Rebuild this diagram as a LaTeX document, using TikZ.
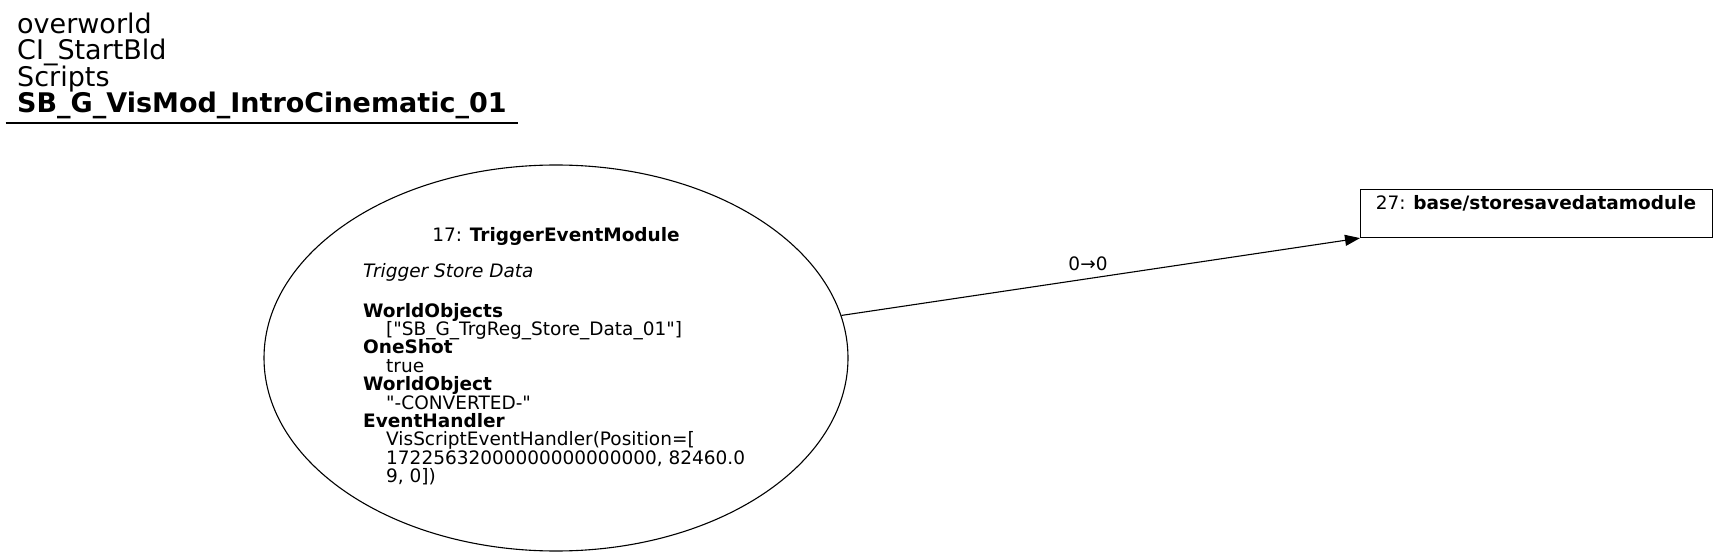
\documentclass[tikz,border=0pt]{standalone}
\usepackage{fontspec}
\setmainfont{DejaVu Sans}[Ligatures=TeXOff]
\usetikzlibrary{shapes.geometric,arrows.meta}
\tikzset{
  ttl/.style={anchor=base west, inner sep=0pt, font=\fontsize{27}{26}\selectfont},
  txt/.style={anchor=base west, inner sep=0pt, font=\fontsize{18.5}{18.4}\selectfont},
  ctxt/.style={anchor=base, inner sep=0pt, font=\fontsize{18.5}{18.4}\selectfont},
  modell/.style={draw, ellipse, line width=1.1pt, minimum width=584pt, minimum height=386pt, inner sep=0pt},
  modbox/.style={draw, rectangle, line width=1.1pt, minimum width=352pt, minimum height=48pt, inner sep=0pt, anchor=north west},
  conn/.style={line width=1.1pt, -{Triangle[length=15pt,width=11pt]}}
}
\begin{document}
\begin{tikzpicture}[x=1pt,y=-1pt]
\useasboundingbox (0,0) rectangle (1717,556);
% title
\node[ttl] (t1) at (17,33.5) {overworld};
\node[ttl] (t2) at (17,60) {CI\_StartBld};
\node[ttl] (t3) at (17,86.5) {Scripts};
\node[ttl] (t4) at (17,113) {\textbf{SB\_G\_VisMod\_IntroCinematic\_01}};
\coordinate (u1) at (5.5,123);
\coordinate (u2) at (518,123);
\draw[line width=1.2pt] (u1) -- (u2);
% ellipse node
\node[modell] (e) at (556,358) {};
\node[ctxt] (e0) at (556,242) {17: \textbf{TriggerEventModule}};
\node[txt] (e1) at (363,278) {\textit{Trigger Store Data}};
\node[txt] (e2) at (363,317) {\textbf{WorldObjects}};
\node[txt] (e3) at (386,335.4) {["SB\_G\_TrgReg\_Store\_Data\_01"]};
\node[txt] (e4) at (363,353.8) {\textbf{OneShot}};
\node[txt] (e5) at (386,372.2) {true};
\node[txt] (e6) at (363,390.6) {\textbf{WorldObject}};
\node[txt] (e7) at (386,409) {"-CONVERTED-"};
\node[txt] (e8) at (363,427.4) {\textbf{EventHandler}};
\node[txt] (e9) at (386,445.8) {VisScriptEventHandler(Position=[};
\node[txt] (e10) at (386,464.2) {17225632000000000000000, 82460.0};
\node[txt] (e11) at (386,482.6) {9, 0])};
% box node
\node[modbox] (b) at (1360,189) {};
\node[ctxt] (b0) at (1536,210) {27: \textbf{base/storesavedatamodule}};
% connector
\draw[conn] (e) -- (b.south west);
\node[ctxt] (lbl) at (1088,271) {0→0};
\end{tikzpicture}
\end{document}
